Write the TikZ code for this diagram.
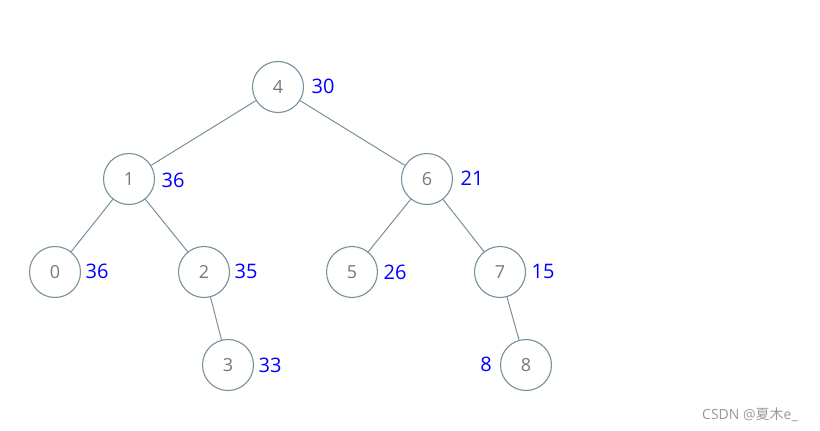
\documentclass[tikz,border=0pt]{standalone}
\usepackage{fontspec}
\setmainfont{Open Sans}
\newfontfamily\cjk{Noto Sans CJK SC}
\definecolor{edgec}{HTML}{78909C}
\definecolor{numc}{HTML}{777777}
\definecolor{labc}{HTML}{0000FF}
\begin{document}
\begin{tikzpicture}[x=1pt,y=-1pt,
  tn/.style={circle,draw=edgec,line width=1.1pt,minimum size=51pt,inner sep=0pt,text=numc,font=\fontsize{18}{20}\selectfont},
  lab/.style={text=labc,font=\fontsize{20}{22}\selectfont,inner sep=0pt},
  ed/.style={draw=edgec,line width=1pt}]
\useasboundingbox (0,0) rectangle (820,431);
\node[tn] (n4) at (278,87) {4};
\node[tn] (n1) at (129,179) {1};
\node[tn] (n6) at (427,179) {6};
\node[tn] (n0) at (55,272) {0};
\node[tn] (n2) at (204,272) {2};
\node[tn] (n5) at (352,272) {5};
\node[tn] (n7) at (500,272) {7};
\node[tn] (n3) at (228,365) {3};
\node[tn] (n8) at (526,365) {8};
\draw[ed] (n4) -- (n1);
\draw[ed] (n4) -- (n6);
\draw[ed] (n1) -- (n0);
\draw[ed] (n1) -- (n2);
\draw[ed] (n2) -- (n3);
\draw[ed] (n6) -- (n5);
\draw[ed] (n6) -- (n7);
\draw[ed] (n7) -- (n8);
\node[lab] (l4) at (323,86) {30};
\node[lab] (l1) at (173,180) {36};
\node[lab] (l6) at (472,178) {21};
\node[lab] (l0) at (97,271) {36};
\node[lab] (l2) at (246,271) {35};
\node[lab] (l5) at (395,272) {26};
\node[lab] (l7) at (543,271) {15};
\node[lab] (l3) at (270,365) {33};
\node[lab] (l8) at (486,364) {8};
\node[text=numc!75,font=\fontsize{14}{16}\selectfont,inner sep=0pt] (wm) at (750,415) {CSDN @{\cjk 夏木}e\_};
\end{tikzpicture}
\end{document}
